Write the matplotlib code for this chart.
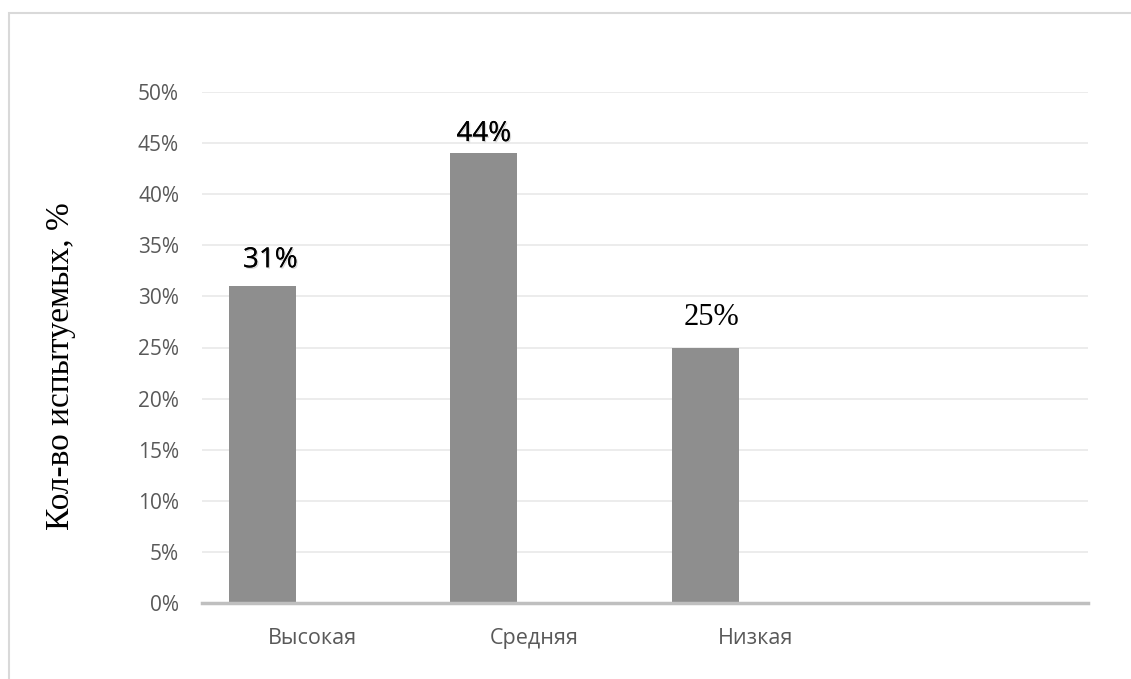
import numpy as np
import matplotlib.pyplot as plt
import matplotlib.patches as patches
import matplotlib.patheffects as pe
from matplotlib.ticker import PercentFormatter

# data
categories = ['Высокая', 'Средняя', 'Низкая', '']
values = [31, 44, 25, 0]
value_labels = ['31%', '44%', '25%', '']
y_ticks = [0, 5, 10, 15, 20, 25, 30, 35, 40, 45, 50]

# label placement tweaks (style, not data)
label_dx = [0.036, 0.0, 0.027, 0.0]
label_dy = [1.85, 1.2, 2.25, 0.0]

W, H = 1131, 679
fig = plt.figure(figsize=(W / 100, H / 100), dpi=100)
fig.patch.set_facecolor('white')

# chart area frame (only top/left edges visible in the crop)
frame = patches.Rectangle((9 / W, -0.1), 1.2, 1 - 13 / H + 0.1, transform=fig.transFigure,
                          fill=False, edgecolor='#D9D9D9', linewidth=1.5, clip_on=False)
fig.patches.append(frame)

ax = fig.add_axes([202 / W, 1 - 603 / H, (1088 - 202) / W, (603 - 92) / H])

x = np.arange(len(categories))
bar_w = 0.303
offset = -0.228
bars = ax.bar(x + offset, values, width=bar_w, color='#8E8E8E', zorder=3)

ax.set_xlim(-0.5, len(categories) - 0.5)
ax.set_ylim(0, 50)
ax.set_yticks(y_ticks)
ax.yaxis.set_major_formatter(PercentFormatter(decimals=0))
ax.set_xticks(x)
ax.set_xticklabels(categories)

ax.grid(axis='y', color='#EBEBEB', linewidth=1.3, zorder=0)
ax.set_axisbelow(True)
for s in ['top', 'right', 'left']:
    ax.spines[s].set_visible(False)
ax.spines['bottom'].set_color('#BFBFBF')
ax.spines['bottom'].set_linewidth(2.5)
ax.spines['bottom'].set_zorder(4)

ax.tick_params(axis='both', length=0, colors='#595959', labelsize=15)
ax.tick_params(axis='y', pad=16.5)
ax.tick_params(axis='x', pad=18, labelsize=15.5)
for lab in ax.get_xticklabels() + ax.get_yticklabels():
    lab.set_family('Open Sans')

# data labels: first two sans with a soft shadow, the third in serif
shadow = [pe.withSimplePatchShadow(offset=(1, -1), shadow_rgbFace='#C0C0C0', alpha=0.6), pe.Normal()]
for i, (b, v, t) in enumerate(zip(bars, values, value_labels)):
    if not t:
        continue
    cx = b.get_x() + b.get_width() / 2 + label_dx[i]
    if i < 2:
        ax.text(cx, v + label_dy[i], t, ha='center', va='baseline', fontsize=20,
                family='Open Sans', color='black', path_effects=shadow)
    else:
        ax.text(cx, v + label_dy[i], t, ha='center', va='baseline', fontsize=22,
                family='Liberation Serif', color='black')

ax.set_ylabel('Кол-во испытуемых, %', family='Liberation Serif', fontsize=24, color='black')
ax.yaxis.set_label_coords(-0.1425, 0.464)

fig.savefig('out.png', dpi=100, facecolor='white')
